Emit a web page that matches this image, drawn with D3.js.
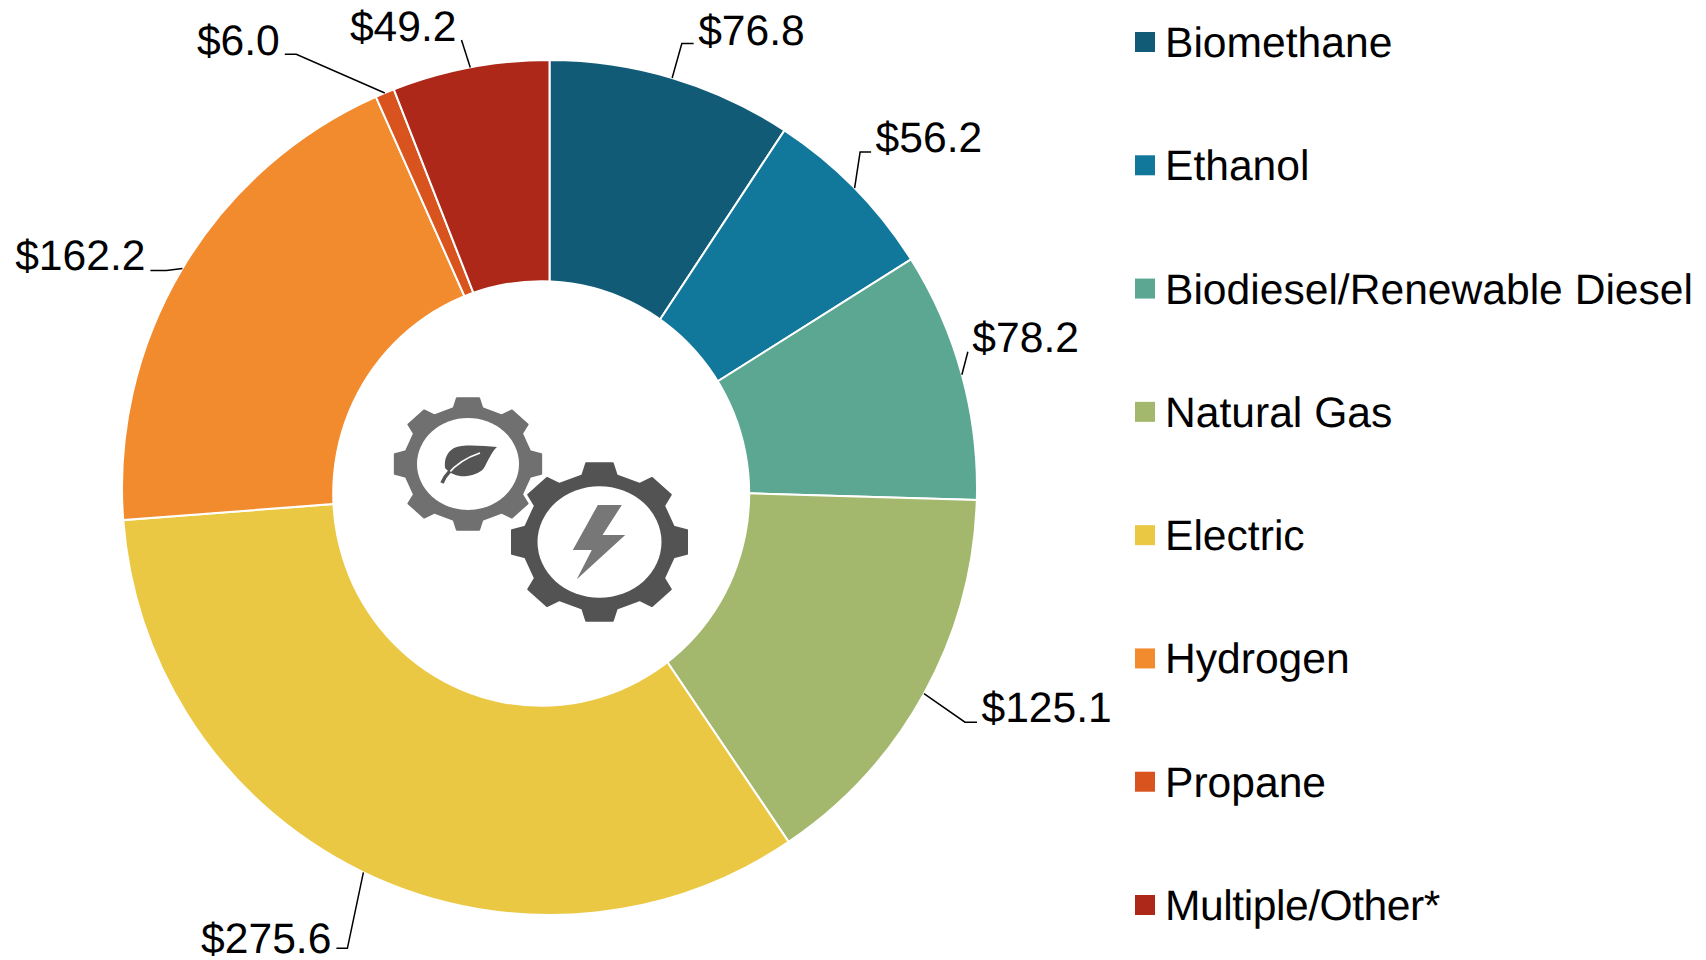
<!DOCTYPE html>
<html>
<head>
<meta charset="utf-8">
<script src="https://cdn.jsdelivr.net/npm/d3@7"></script>
<style>
  html, body { margin: 0; padding: 0; background: #fff; }
  svg { display: block; }
  text { font-family: "Liberation Sans", Arial, sans-serif; fill: #000; text-rendering: geometricPrecision; }
</style>
</head>
<body>
<svg id="chart"></svg>
<script>
const categories = ["Biomethane", "Ethanol", "Biodiesel/Renewable Diesel", "Natural Gas", "Electric", "Hydrogen", "Propane", "Multiple/Other*"];
const values = [76.8, 56.2, 78.2, 125.1, 275.6, 162.2, 6.0, 49.2];
const colors = ["#115b77", "#12789b", "#5ca792", "#a3b86c", "#ebc843", "#f28a2e", "#d9531e", "#ad2818"];

// leader elbow and end, relative to the point on the ring edge
const leaders = [
  { elbow: [9.7, -34.5], end: [21.5, -34.5], anchor: "start", dy: 1.5 },
  { elbow: [5.5, -36], end: [16.5, -36], anchor: "start", dy: 0 },
  { elbow: [6, -23], end: [6, -23], anchor: "start", dy: 0 },
  { elbow: [41, 28.5], end: [53, 28.5], anchor: "start", dy: 0 },
  { elbow: [-16, 76], end: [-27, 76], anchor: "end", dy: 5 },
  { elbow: [-16, 2], end: [-32, 2], anchor: "end", dy: 0 },
  { elbow: [-88.5, -38.8], end: [-100, -38.8], anchor: "end", dy: 1 },
  { elbow: [-8.8, -27.3], end: [-8.8, -27.3], anchor: "end", dy: 1 }
];

const width = 1706, height = 960;
const cx = 549.5, cy = 487.5, outerR = 427.5;

const svg = d3.select("#chart").attr("width", width).attr("height", height);
const g = svg.append("g").attr("transform", `translate(${cx},${cy})`);

const pie = d3.pie().sort(null).value(d => d);
const arc = d3.arc().innerRadius(0).outerRadius(outerR);
const edge = d3.arc().innerRadius(outerR).outerRadius(outerR);
const arcs = pie(values);

// Slices
g.selectAll("path.slice")
  .data(arcs)
  .join("path")
    .attr("class", "slice")
    .attr("d", arc)
    .attr("fill", (d, i) => colors[i])
    .attr("stroke", "#fff")
    .attr("stroke-width", 2);

// the hole sits a little off centre, as in the original
svg.append("ellipse")
  .attr("cx", 541.2)
  .attr("cy", 493.5)
  .attr("rx", 209)
  .attr("ry", 213.3)
  .attr("fill", "#fff");

// Leader lines
const line = d3.line();
g.selectAll("path.leader")
  .data(arcs)
  .join("path")
    .attr("class", "leader")
    .attr("fill", "none")
    .attr("stroke", "#000")
    .attr("stroke-width", 1.5)
    .attr("d", (d, i) => {
      const [x, y] = edge.centroid(d);
      const l = leaders[i];
      return line([[x, y], [x + l.elbow[0], y + l.elbow[1]], [x + l.end[0], y + l.end[1]]]);
    });

// Value labels
g.selectAll("text.value")
  .data(arcs)
  .join("text")
    .attr("class", "value")
    .attr("font-size", 42.6)
    .attr("text-anchor", (d, i) => leaders[i].anchor)
    .attr("x", (d, i) => edge.centroid(d)[0] + leaders[i].end[0] + (leaders[i].anchor === "start" ? 4.5 : -5))
    .attr("y", (d, i) => edge.centroid(d)[1] + leaders[i].end[1] + leaders[i].dy)
    .text(d => "$" + d.data.toFixed(1));

// Legend
const legendY = d3.scalePoint().domain(categories).range([42, 905]);
const legend = svg.selectAll("g.legend")
  .data(categories)
  .join("g")
    .attr("class", "legend")
    .attr("transform", d => `translate(1135,${legendY(d)})`);
legend.append("rect")
  .attr("y", -10)
  .attr("width", 20)
  .attr("height", 20)
  .attr("fill", (d, i) => colors[i]);
legend.append("text")
  .attr("x", 30)
  .attr("y", 15)
  .attr("font-size", 42.6)
  .style("letter-spacing", d => d === "Multiple/Other*" ? "-0.45px" : null)
  .text(d => d);

// Gear icons in the middle
function gearPath(r, teeth) {
  const pts = [];
  const step = 2 * Math.PI / teeth;
  for (let i = 0; i < teeth; i++) {
    const a = i * step - Math.PI / 2;
    [[-0.5, 0.86], [-0.33, 1], [0.33, 1], [0.5, 0.86]].forEach(p => {
      const t = a + p[0] * step * 0.58;
      pts.push([r * p[1] * Math.cos(t), r * p[1] * Math.sin(t)]);
    });
  }
  return d3.line()(pts) + "Z";
}
// the icon is squashed a bit in height
function addGear(x, y, r, hole, fill) {
  const gear = svg.append("g").attr("transform", `translate(${x},${y})`);
  const body = gear.append("g").attr("transform", "scale(1,0.9)");
  body.append("path")
    .attr("d", gearPath(r - 1, 8))
    .attr("fill", fill)
    .attr("stroke", fill)
    .attr("stroke-width", 2)
    .attr("stroke-linejoin", "round");
  body.append("circle").attr("r", hole).attr("fill", "#fff");
  return gear;
}
const leafGear = addGear(468, 464, 75, 51, "#707070");
leafGear.append("path")
  .attr("fill", "#555")
  .attr("d", "M29,-17 C15,-18 -5,-20 -14,-16 C-21,-12 -24,-5 -23,4 C-17,11 -8,13 -1,12 C8,11 14,7 16,4 C20,-3 24,-13 29,-17Z");
leafGear.append("path")
  .attr("fill", "none")
  .attr("stroke", "#fff")
  .attr("stroke-width", 1.8)
  .attr("d", "M-20,10 C-12,0 0,-7 12,-11");
leafGear.append("path")
  .attr("fill", "none")
  .attr("stroke", "#555")
  .attr("stroke-width", 3.5)
  .attr("d", "M-26,19 C-24,14 -21,10 -18,7");
const boltGear = addGear(599.5, 542, 89.5, 62, "#535353");
boltGear.append("path")
  .attr("fill", "#777")
  .attr("d", "M-1.7,-37 L22.3,-37 L3,-7 L25.7,-7 L-22.7,37.3 L-7.7,8 L-26.7,8Z");
</script>
</body>
</html>
